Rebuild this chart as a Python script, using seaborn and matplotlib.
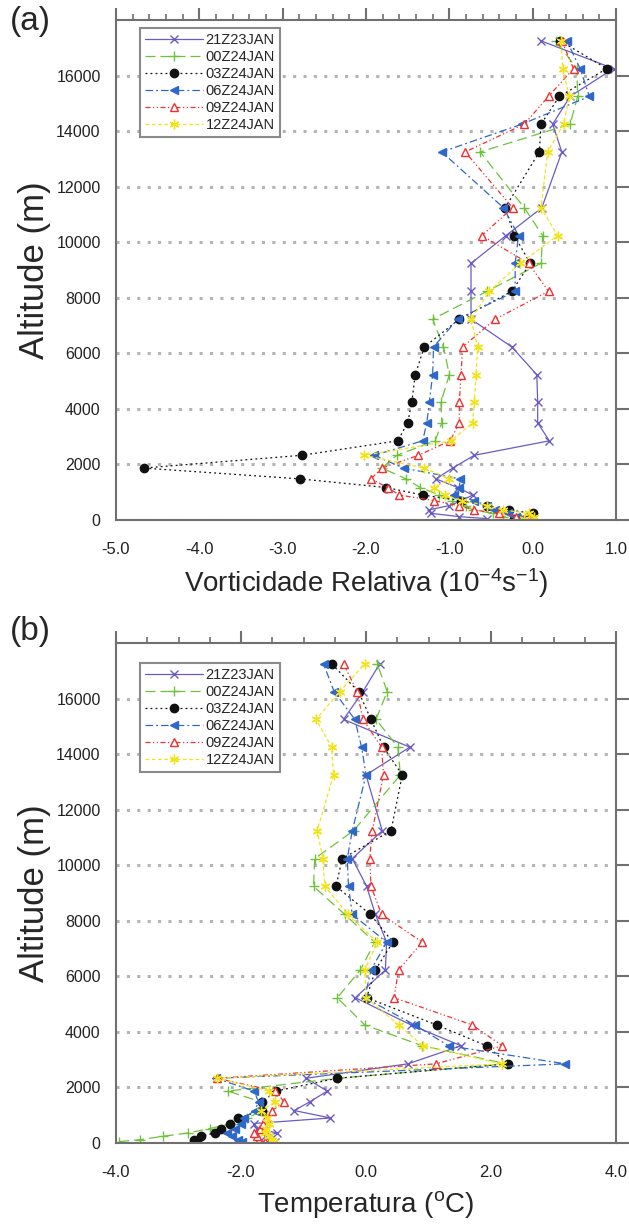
import matplotlib
matplotlib.use("Agg")
import matplotlib.pyplot as plt
from matplotlib.ticker import MultipleLocator, FormatStrFormatter
import pandas as pd
import seaborn as sns

# altitude of the model levels (m)
levels = [50, 120, 240, 360, 520, 700, 900, 1170, 1480, 1870, 2330, 2850, 3500,
          4250, 5230, 6230, 7230, 8230, 9240, 10240, 11240, 13250, 14250, 15250,
          16250, 17250]
times = ["21Z23JAN", "00Z24JAN", "03Z24JAN", "06Z24JAN", "09Z24JAN", "12Z24JAN"]

# (a) relative vorticity (10^-4 s^-1)
vort_21z = [-0.55, -0.88, -1.22, -1.25, -1.00, -0.85, -0.72, -0.90, -1.16, -0.96, -0.70, 0.20, 0.06,
            0.06, 0.05, -0.25, -0.74, -0.74, -0.74, -0.32, 0.11, 0.35, 0.24, 0.45, 0.97, 0.10]
vort_00z = [-0.14, -0.35, -0.47, -0.72, -0.80, -0.97, -1.12, -1.35, -1.52, -1.81, -1.63, -1.17, -1.09,
            -1.10, -1.00, -1.07, -1.20, -0.55, 0.10, 0.12, -0.10, -0.63, 0.45, 0.54, 0.53, 0.28]
vort_03z = [-0.23, -0.05, 0.00, -0.28, -0.55, -0.86, -1.32, -1.76, -2.79, -4.67, -2.77, -1.62, -1.50,
            -1.45, -1.41, -1.30, -0.88, -0.25, -0.03, -0.22, -0.33, 0.08, 0.10, 0.32, 0.89, 0.33]
vort_06z = [-0.15, -0.20, -0.30, -0.45, -0.55, -0.70, -0.95, -0.88, -0.87, -1.55, -1.90, -1.32, -1.27,
            -1.24, -1.20, -1.19, -0.90, -0.21, -0.21, -0.17, -0.35, -1.09, -0.13, 0.68, 0.57, 0.41]
vort_09z = [-0.05, -0.20, -0.40, -0.70, -0.89, -1.19, -1.60, -1.74, -1.94, -1.81, -1.37, -0.99, -0.88,
            -0.88, -0.86, -0.84, -0.45, 0.19, -0.05, -0.61, -0.24, -0.81, -0.10, 0.19, 0.49, 0.35]
vort_12z = [-0.10, 0.02, -0.05, -0.35, -0.55, -0.85, -1.05, -1.18, -1.00, -1.30, -2.02, -0.98, -0.72,
            -0.70, -0.68, -0.66, -0.74, -0.52, -0.15, 0.30, 0.10, 0.18, 0.37, 0.44, 0.36, 0.34]

# (b) temperature (C)
temp_21z = [-1.45, -1.55, -1.62, -1.42, -1.75, -1.80, -0.57, -1.15, -0.90, -0.62, -0.96, 0.67, 1.52,
            0.72, -0.17, 0.31, 0.33, 0.15, 0.01, -0.22, 0.26, 0.00, 0.70, -0.36, -0.05, 0.22]
temp_00z = [-3.95, -3.62, -3.25, -2.85, -2.50, -2.15, -1.90, -1.65, -1.68, -2.21, -0.45, 2.25, 0.90,
            -0.02, -0.46, -0.09, 0.14, -0.34, -0.84, -0.82, -0.20, 0.55, 0.51, 0.16, 0.34, 0.18]
temp_03z = [-2.70, -2.75, -2.64, -2.42, -2.32, -2.17, -2.05, -1.66, -1.66, -1.44, -0.46, 2.27, 1.93,
            1.13, 0.01, 0.15, 0.43, 0.07, -0.48, -0.38, 0.40, 0.58, 0.28, 0.08, -0.12, -0.55]
temp_06z = [-1.98, -2.05, -2.15, -2.22, -2.10, -2.00, -1.95, -1.78, -1.72, -1.79, -2.40, 3.19, 1.32,
            0.78, -0.02, 0.08, 0.33, -0.22, -0.28, -0.30, -0.22, 0.00, -0.07, -0.18, -0.51, -0.68]
temp_09z = [-1.62, -1.72, -1.74, -1.80, -1.70, -1.65, -1.60, -1.50, -1.31, -1.45, -2.39, 1.12, 2.18,
            1.70, 0.45, 0.52, 0.90, 0.25, 0.08, 0.06, 0.10, 0.28, 0.25, -0.05, -0.14, -0.36]
temp_12z = [-1.48, -1.50, -1.55, -1.62, -1.60, -1.55, -1.58, -1.68, -1.45, -1.55, -2.38, 2.17, 0.91,
            0.52, 0.00, -0.02, 0.18, -0.29, -0.66, -0.69, -0.78, -0.52, -0.55, -0.80, -0.42, -0.02]

sns.set_theme(style="white")
plt.rcParams["font.family"] = ["Liberation Sans", "DejaVu Sans"]
plt.rcParams["mathtext.fontset"] = "custom"
plt.rcParams["mathtext.rm"] = "Liberation Sans"
plt.rcParams["mathtext.default"] = "regular"
plt.rcParams["axes.unicode_minus"] = False

styles = {
    "21Z23JAN": dict(color="#6a5cc6", linestyle="-", marker="x", markersize=5.5),
    "00Z24JAN": dict(color="#6cc23a", linestyle=(0, (8, 4)), marker="+", markersize=7),
    "03Z24JAN": dict(color="#111111", linestyle=(0, (1.5, 2.5)), marker="o", markersize=6),
    "06Z24JAN": dict(color="#2f68c8", linestyle=(0, (6, 2.5, 1.5, 2.5)), marker="<", markersize=6),
    "09Z24JAN": dict(color="#f03030", linestyle=(0, (4, 2, 1, 2, 1, 2)), marker="^", markersize=6,
                     markerfacecolor="white"),
    "12Z24JAN": dict(color="#f2e21a", linestyle=(0, (3, 2)), marker=(6, 2, 0), markersize=7),
}

fig = plt.figure(figsize=(6.29, 12.29), dpi=100)
W, H = 629, 1229
ax_a = fig.add_axes([116 / W, 1 - 520 / H, 500 / W, 500 / H])
ax_b = fig.add_axes([116 / W, 1 - 1143 / H, 500 / W, 500 / H])


def draw(ax, series, xlim, major, minor, xlabel, leg_y):
    df = pd.DataFrame({"alt": levels * 6,
                       "val": sum(series, []),
                       "time": [t for t in times for _ in levels]})
    for t in times:
        st = dict(styles[t])
        st.setdefault("markerfacecolor", st["color"])
        sub = df[df["time"] == t]
        sns.lineplot(data=sub, x="val", y="alt", orient="y", sort=False, estimator=None,
                     ax=ax, label=t, linewidth=0.9, markeredgecolor=st["color"],
                     markeredgewidth=1.0, **st)
    ax.set_xlim(*xlim)
    ax.set_ylim(0, 18000)
    ax.xaxis.set_major_locator(MultipleLocator(major))
    ax.xaxis.set_minor_locator(MultipleLocator(minor))
    ax.xaxis.set_major_formatter(FormatStrFormatter("%.1f"))
    ax.set_yticks(range(0, 17000, 2000))
    ax.grid(axis="y", color="#b4b4b4", linestyle=(0, (1, 2.4)), linewidth=2.2)
    ax.set_axisbelow(True)
    for s in ax.spines.values():
        s.set_color("#707070")
        s.set_linewidth(1.5)
    ax.tick_params(which="both", direction="out", top=True, right=True, color="#707070")
    ax.tick_params(axis="y", which="major", length=9.5, width=1.5, pad=1.5, labelsize=11.5,
                   labelcolor="#222222")
    ax.tick_params(axis="x", which="major", length=8.5, width=1.5, pad=7, labelsize=12,
                   labelcolor="#222222")
    ax.tick_params(axis="x", which="minor", length=4.5, width=1.2)
    ax.set_ylabel("Altitude (m)", fontsize=25, labelpad=4)
    ax.set_xlabel(xlabel, fontsize=20, labelpad=7)
    leg = ax.legend(loc="upper left", bbox_to_anchor=(0.048, leg_y), borderaxespad=0,
                    fancybox=False, framealpha=1, edgecolor="#8a8a8a", fontsize=10.5,
                    handlelength=4.0, handletextpad=0.15, labelspacing=0.2, borderpad=0.35)
    leg.get_frame().set_linewidth(1.5)


draw(ax_a, [vort_21z, vort_00z, vort_03z, vort_06z, vort_09z, vort_12z],
     (-5.0, 1.0), 1.0, 0.2, "Vorticidade Relativa (10$^{-4}$s$^{-1}$)", 0.984)
draw(ax_b, [temp_21z, temp_00z, temp_03z, temp_06z, temp_09z, temp_12z],
     (-4.0, 4.0), 2.0, 0.5, "Temperatura ($^{o}$C)", 0.96)

fig.text(10 / W, 1 - 6 / H, "(a)", fontsize=24, va="top", ha="left")
fig.text(10 / W, 1 - 616 / H, "(b)", fontsize=24, va="top", ha="left")

fig.savefig("out.png", dpi=100)
